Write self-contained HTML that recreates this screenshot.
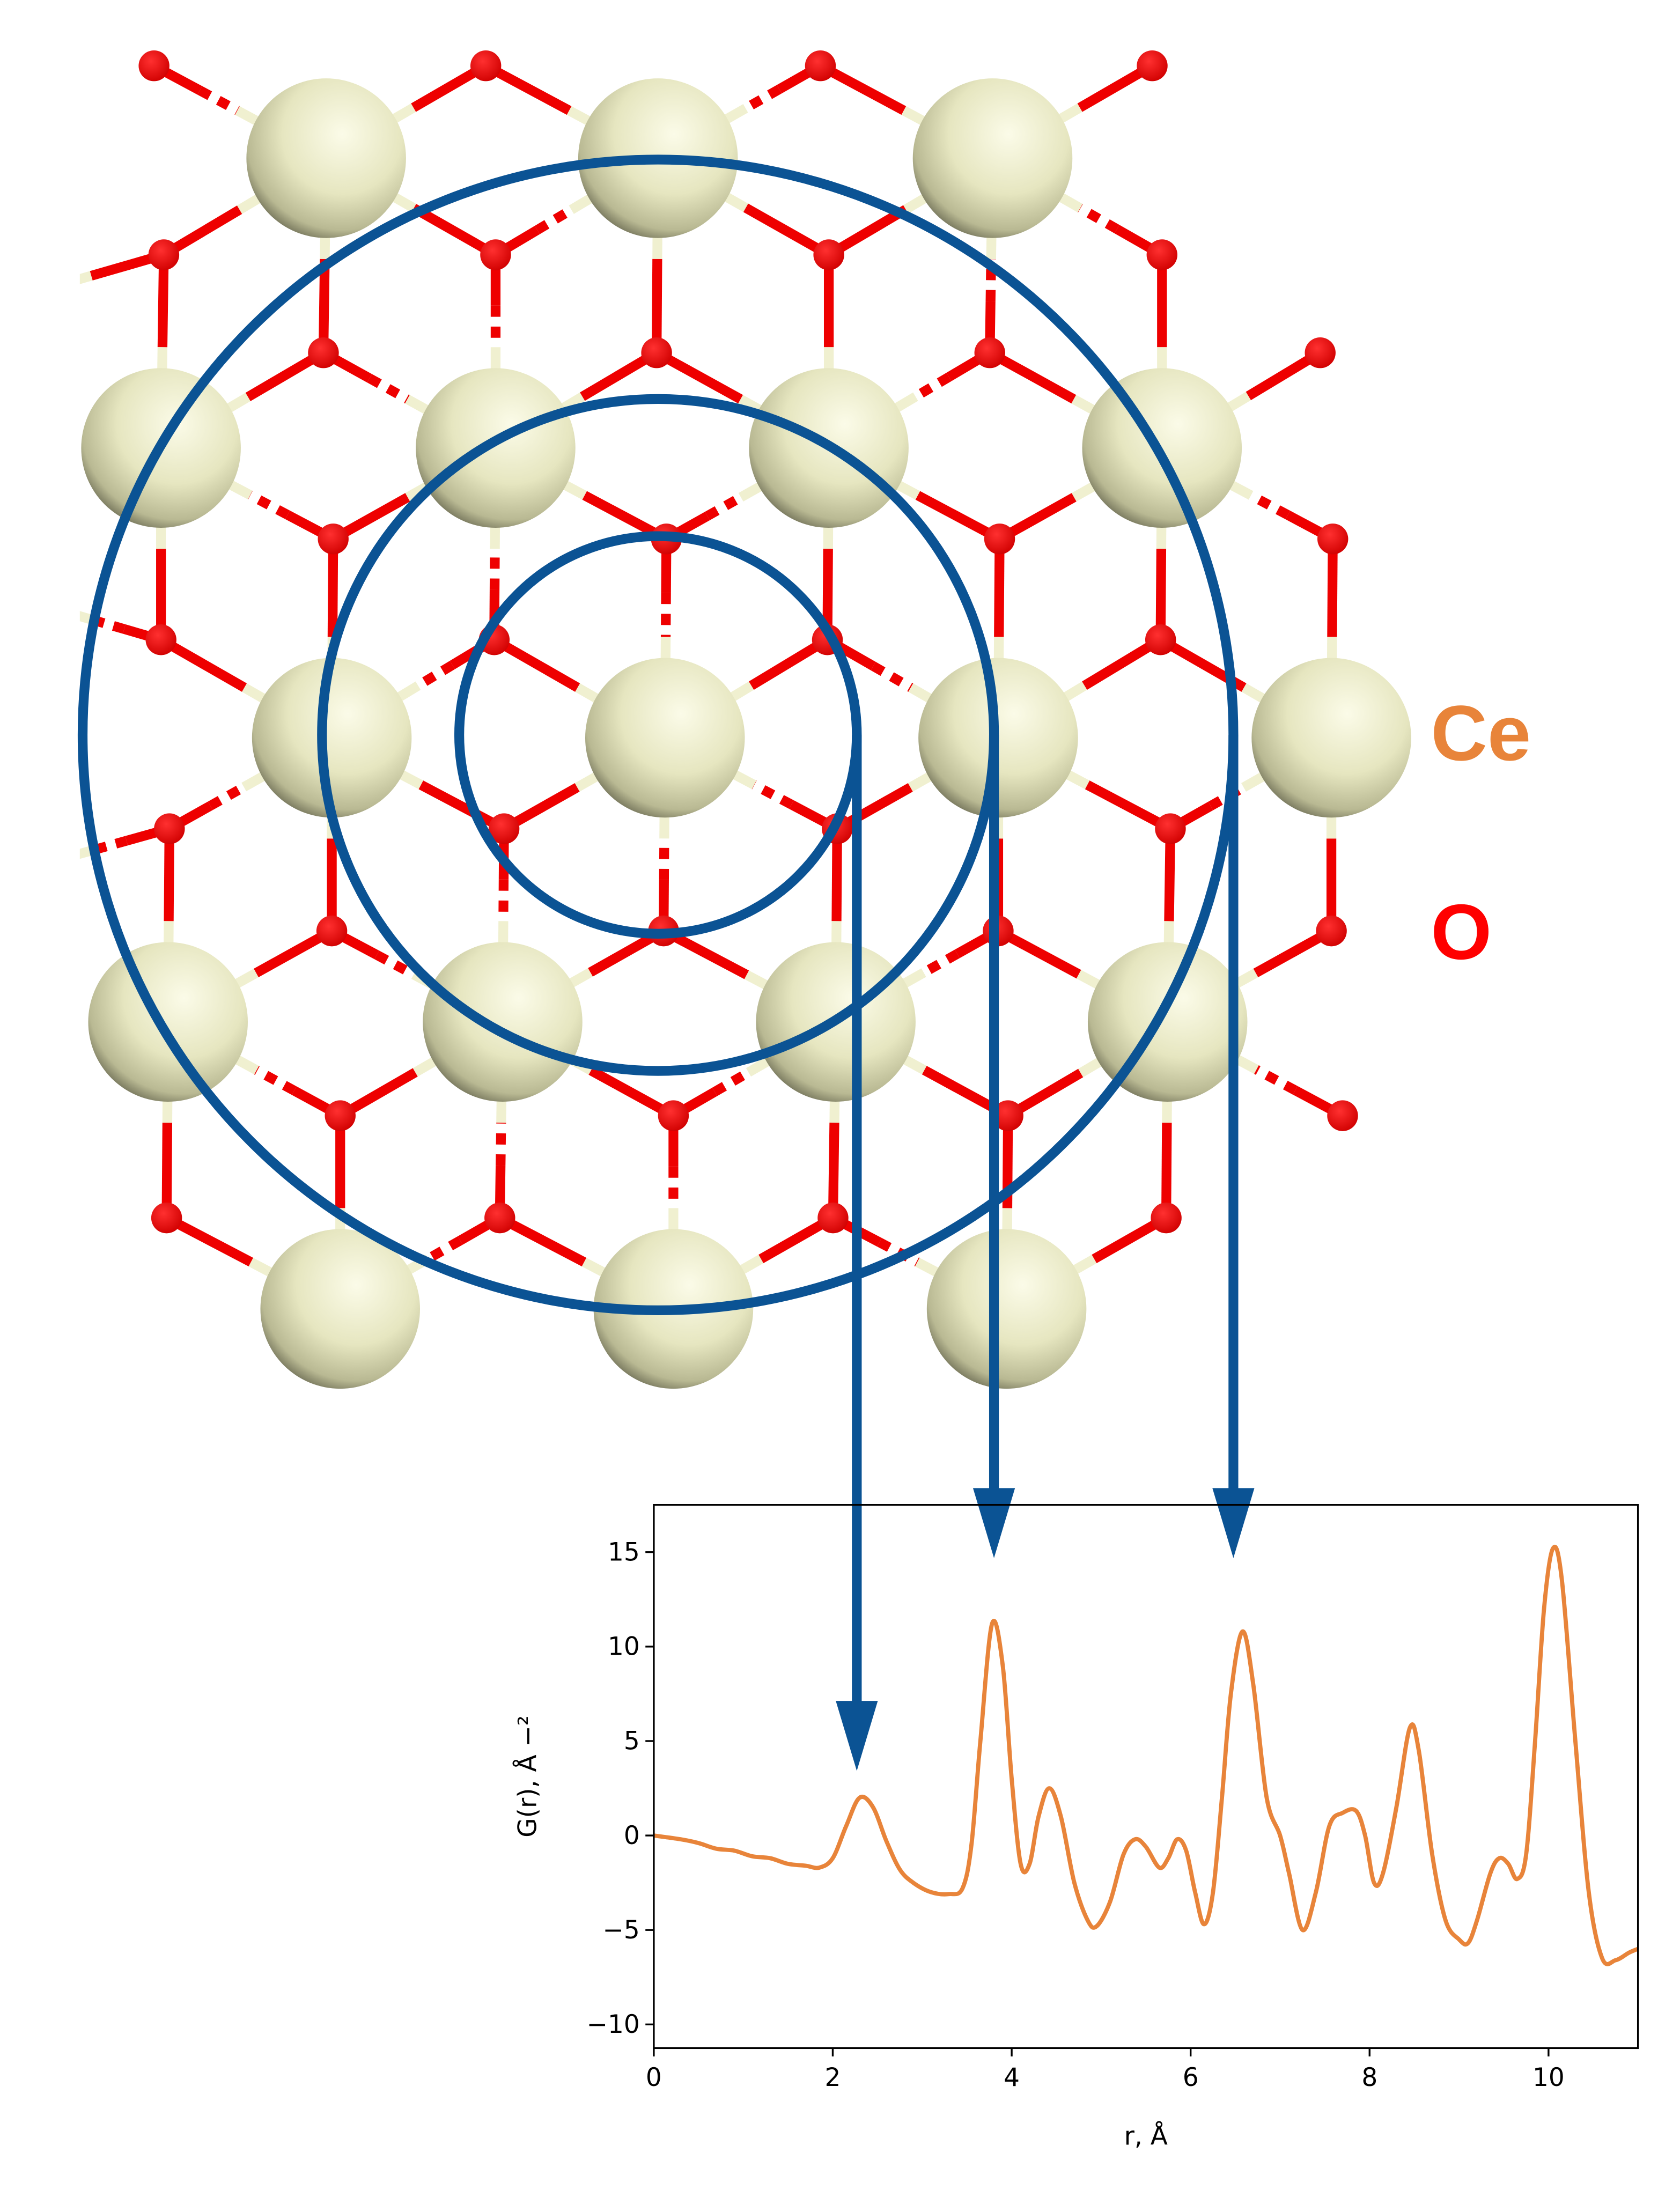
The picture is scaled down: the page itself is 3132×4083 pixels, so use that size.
<!DOCTYPE html>
<html><head><meta charset="utf-8"><style>html,body{margin:0;padding:0;background:#fff}svg{display:block}</style></head>
<body>
<svg id="fig" width="3132" height="4083" viewBox="0 0 1200 1564.4" xmlns="http://www.w3.org/2000/svg" font-family="'DejaVu Sans','Liberation Sans',sans-serif">
<defs>
<radialGradient id="ceg" cx="0.6" cy="0.35" r="0.75">
<stop offset="0" stop-color="#fbfbe8"/><stop offset="0.5" stop-color="#e6e6c0"/><stop offset="0.8" stop-color="#b9b993"/><stop offset="1" stop-color="#4a4a38"/>
</radialGradient>
<radialGradient id="og" cx="0.4" cy="0.35" r="0.7"><stop offset="0" stop-color="#ff3030"/><stop offset="1" stop-color="#d00000"/></radialGradient>
<clipPath id="sclip"><rect x="57" y="0" width="1000" height="1010"/></clipPath>
</defs>
<g id="structure" clip-path="url(#sclip)"></g>
<g id="rings"></g>
<text x="1022" y="543" font-size="56" font-weight="bold" fill="#e8843a" font-family="'Liberation Sans',sans-serif">Ce</text>
<text x="1022" y="685" font-size="56" font-weight="bold" fill="#ff0000" font-family="'Liberation Sans',sans-serif">O</text>
<g id="chart"></g>
</svg>
<script>
const NS='http://www.w3.org/2000/svg';
function mk(tag,attrs,parent){const e=document.createElementNS(NS,tag);for(const k in attrs)e.setAttribute(k,attrs[k]);parent.appendChild(e);return e;}
const ceX=[[233,470,709],[115,354,592,830],[237,475,713,951],[120,359,597,834],[243,481,719]];
const ceY=[113,320,527,730,935];
const oY=[47,182,252,385,457,592,665,797,870];
const oX=[[110,347,586,823],[117,354,592,830],[231,469,707,943],[238,476,714,952],[115,353,591,829],[121,360,598,836],[237,474,713,951],[243,481,720,959],[119,357,595,833]];
const st=document.getElementById('structure');
const Os=[];oY.forEach((y,i)=>oX[i].forEach(x=>Os.push([x,y])));
const Ces=[];ceY.forEach((y,i)=>ceX[i].forEach(x=>Ces.push([x,y])));
const ghost=[[-4,217],[-4,627],[-2,423]];
Os.forEach((o,i)=>{
 Ces.concat(ghost).forEach((c,j)=>{
  const dx=c[0]-o[0],dy=c[1]-o[1],d=Math.hypot(dx,dy);
  if(d<150){
   const ux=dx/d,uy=dy/d;
   const dashed=((i+j)%3==0);
   const endR=d-72;
   if(dashed){
     const a=mk('line',{x1:o[0],y1:o[1],x2:o[0]+ux*(endR*0.55),y2:o[1]+uy*(endR*0.55),stroke:'#ee0000','stroke-width':7},st);
     
     const b=mk('line',{x1:o[0]+ux*(endR*0.55),y1:o[1]+uy*(endR*0.55),x2:o[0]+ux*endR,y2:o[1]+uy*endR,stroke:'#ee0000','stroke-width':7,'stroke-dasharray':'8 7'},st);
     
   } else {
     const a=mk('line',{x1:o[0],y1:o[1],x2:o[0]+ux*endR,y2:o[1]+uy*endR,stroke:'#ee0000','stroke-width':7},st);
     
   }
   const s=mk('line',{x1:o[0]+ux*endR,y1:o[1]+uy*endR,x2:o[0]+ux*(d-40),y2:o[1]+uy*(d-40),stroke:'#f0f0d0','stroke-width':7},st);
   
  }
 });
});
Ces.forEach(c=>{const e=mk('circle',{cx:c[0],cy:c[1],r:57,fill:'url(#ceg)'},st);
});
Os.forEach(o=>{const e=mk('circle',{cx:o[0],cy:o[1],r:11,fill:'url(#og)'},st);
});
const rg=document.getElementById('rings');const BL='#0b5394';
const cx=470,cy=525;const radii=[142,240,411];const tips=[1265,1113,1113];
radii.forEach((r,i)=>{
 const c=mk('circle',{cx:cx,cy:cy,r:r,fill:'none',stroke:BL,'stroke-width':7},rg);
 
 const x=cx+r;
 const l=mk('line',{x1:x,y1:cy,x2:x,y2:tips[i]-40,stroke:BL,'stroke-width':7},rg);
 
 const p=mk('polygon',{points:`${x-15},${tips[i]-50} ${x+15},${tips[i]-50} ${x},${tips[i]}`,fill:BL},rg);
 
});
const rVals=[0,0.3,0.5,0.7,0.9,1.1,1.3,1.5,1.7,1.85,2.0,2.15,2.3,2.45,2.6,2.75,2.9,3.1,3.3,3.45,3.55,3.65,3.78,3.9,4.0,4.1,4.2,4.3,4.42,4.55,4.7,4.85,4.95,5.1,5.25,5.38,5.5,5.65,5.75,5.85,5.95,6.05,6.15,6.25,6.35,6.45,6.58,6.7,6.85,7.0,7.1,7.25,7.4,7.55,7.7,7.85,7.95,8.05,8.15,8.3,8.45,8.55,8.7,8.85,9.0,9.1,9.2,9.35,9.45,9.55,9.65,9.75,9.85,9.95,10.05,10.15,10.3,10.45,10.6,10.75,10.9,11];
const gVals=[0,-0.2,-0.4,-0.7,-0.8,-1.1,-1.2,-1.5,-1.6,-1.7,-1.2,0.5,2.0,1.5,-0.3,-1.8,-2.5,-3.0,-3.1,-2.8,-0.5,5,11.2,9,3,-1.5,-1.5,1,2.5,1,-2.5,-4.5,-4.8,-3.5,-1,-0.2,-0.6,-1.7,-1.2,-0.2,-0.8,-3,-4.7,-3,2,7.5,10.8,8,2,0,-2,-5,-3,0.5,1.2,1.3,0,-2.5,-2,1.5,5.7,4.5,-1,-4.5,-5.5,-5.7,-4.5,-2,-1.2,-1.5,-2.3,-1,5,12,15.2,13.5,5,-3,-6.5,-6.6,-6.2,-6];
const xTicks=[0,2,4,6,8,10];
const yTicks=[-10,-5,0,5,10,15];
const ch=document.getElementById('chart');
const X0=467,X1=1170,Y0=1075,Y1=1463,xmin=0,xmax=11,ymin=-11.25,ymax=17.5;
const sx=v=>X0+(v-xmin)/(xmax-xmin)*(X1-X0);
const sy=v=>Y1-(v-ymin)/(ymax-ymin)*(Y1-Y0);
const pts=rVals.map((r,i)=>[sx(r),sy(gVals[i])]);
let d=`M${pts[0][0]},${pts[0][1]}`;
for(let i=0;i<pts.length-1;i++){const p0=pts[i-1]||pts[i],p1=pts[i],p2=pts[i+1],p3=pts[i+2]||p2;
 d+=` C${p1[0]+(p2[0]-p0[0])/6},${p1[1]+(p2[1]-p0[1])/6} ${p2[0]-(p3[0]-p1[0])/6},${p2[1]-(p3[1]-p1[1])/6} ${p2[0]},${p2[1]}`;}
const cp=mk('clipPath',{id:'clip'},ch);mk('rect',{x:X0,y:Y0,width:X1-X0,height:Y1-Y0},cp);
const line=mk('path',{d:d,fill:'none',stroke:'#e8843a','stroke-width':3,'clip-path':'url(#clip)','stroke-linejoin':'round'},ch);

const fr=mk('rect',{x:X0,y:Y0,width:X1-X0,height:Y1-Y0,fill:'none',stroke:'#000','stroke-width':1.3},ch);

xTicks.forEach(t=>{const x=sx(t);
 const tk=mk('line',{x1:x,y1:Y1,x2:x,y2:Y1+6,stroke:'#000','stroke-width':1.3},ch);
 
 const tx=mk('text',{x:x,y:Y1+27,'font-size':18,'text-anchor':'middle'},ch);tx.textContent=t;
 });
yTicks.forEach(t=>{const y=sy(t);
 const tk=mk('line',{x1:X0-6,y1:y,x2:X0,y2:y,stroke:'#000','stroke-width':1.3},ch);
 
 const tx=mk('text',{x:X0-10,y:y+6,'font-size':18,'text-anchor':'end'},ch);tx.textContent=(t<0?'\u2212'+(-t):t);
 });
const xl=mk('text',{x:(X0+X1)/2,y:1532,'font-size':18,'text-anchor':'middle'},ch);xl.textContent='r, Å';

const yl=mk('text',{x:0,y:0,'font-size':18,'text-anchor':'middle',transform:`translate(383,${(Y0+Y1)/2}) rotate(-90)`},ch);yl.textContent='G(r), Å \u2212\u00B2';

</script>
</body></html>
